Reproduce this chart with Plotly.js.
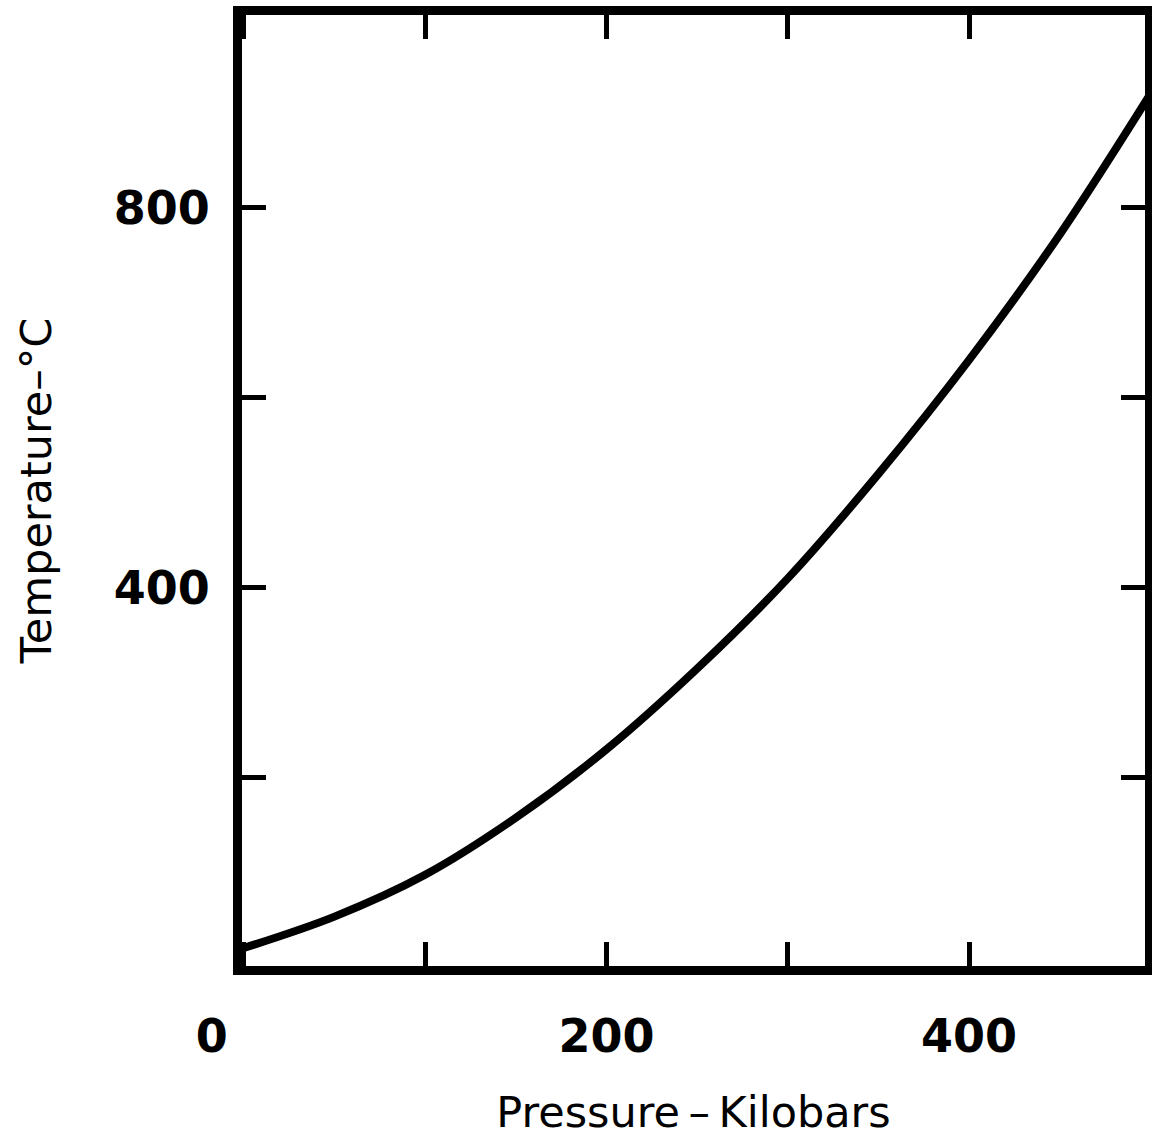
<!DOCTYPE html>
<html>
<head>
<meta charset="utf-8">
<script src="https://cdn.plot.ly/plotly-3.0.1.min.js"></script>
<style>html,body{margin:0;padding:0;background:#fff;}#chart{width:1152px;height:1137px;}</style>
</head>
<body>
<div id="chart"></div>
<script>
// Pressure (kilobars) and temperature (°C)
const pressure = [0, 50, 100, 150, 200, 250, 300, 350, 400, 450, 500];
const temperature = [21, 54, 98, 158, 230, 315, 410, 520, 640, 772, 920];

const xTickVals = [0, 100, 200, 300, 400];
const xTickText = ["0\u00a0\u00a0\u00a0\u00a0", "", "200", "", "400"];
const yTickVals = [200, 400, 600, 800];
const yTickText = ["", "400", "", "800"];

const axisFont = {family: "DejaVu Sans", size: 46, color: "#000", weight: "bold"};
const titleFont = {family: "DejaVu Sans", size: 43, color: "#000"};

const trace = {
  x: pressure,
  y: temperature,
  type: "scatter",
  mode: "lines",
  line: {color: "#000", width: 8, shape: "spline", smoothing: 1},
  hoverinfo: "skip"
};

const layout = {
  width: 1152,
  height: 1137,
  margin: {l: 242, r: 7, t: 15, b: 171},
  paper_bgcolor: "#fff",
  plot_bgcolor: "#fff",
  showlegend: false,
  xaxis: {
    range: [-1, 497],
    tickmode: "array",
    tickvals: xTickVals,
    ticktext: xTickText,
    ticks: "inside",
    ticklen: 24,
    tickwidth: 5,
    tickcolor: "#000",
    showline: true,
    linewidth: 9,
    linecolor: "#000",
    mirror: "allticks",
    showgrid: false,
    zeroline: false,
    tickfont: axisFont,
    ticklabelstandoff: 22,
    title: {text: "Pressure\u2009\u2013\u2009Kilobars", font: titleFont, standoff: 40}
  },
  yaxis: {
    range: [2, 1003],
    tickmode: "array",
    tickvals: yTickVals,
    ticktext: yTickText,
    ticks: "inside",
    ticklen: 24,
    tickwidth: 5,
    tickcolor: "#000",
    showline: true,
    linewidth: 9,
    linecolor: "#000",
    mirror: "allticks",
    showgrid: false,
    zeroline: false,
    tickfont: axisFont,
    ticklabelstandoff: 14,
    title: {text: "Temperature\u2013°C", font: titleFont, standoff: 52}
  }
};

Plotly.newPlot("chart", [trace], layout, {staticPlot: true, displayModeBar: false});
</script>
</body>
</html>
